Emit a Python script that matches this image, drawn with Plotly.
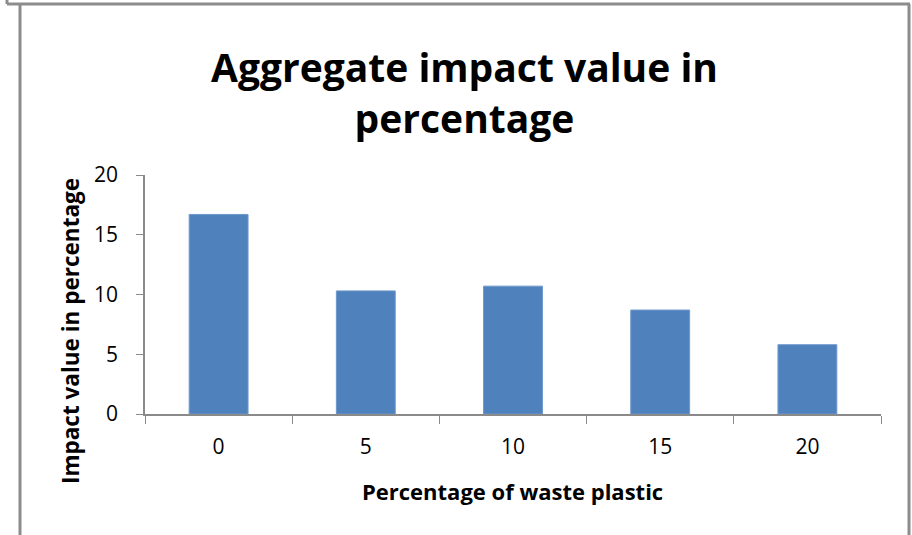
import plotly.graph_objects as go

categories = ["0", "5", "10", "15", "20"]
impact_values = [16.7, 10.3, 10.7, 8.7, 5.8]
y_ticks = [0, 5, 10, 15, 20]

W, H = 912, 535
ML, MR, MT, MB = 145, 31, 175, 121
PW, PH = W - ML - MR, H - MT - MB

def px_x(p):
    return (p - ML) / PW

def px_y(p):
    return (H - MB - p) / PH

FONT = "Open Sans"
GRAY = "#8a8a8a"

fig = go.Figure(go.Bar(
    x=categories, y=impact_values,
    marker=dict(color="#4F81BD", line=dict(color="#6f98cc", width=1)),
    width=0.4,
))

fig.update_layout(
    width=W, height=H,
    margin=dict(l=ML, r=MR, t=MT, b=MB),
    paper_bgcolor="white", plot_bgcolor="white",
    showlegend=False,
    font=dict(family=FONT, color="black"),
)
fig.update_xaxes(
    type="category", tickson="boundaries", ticks="outside", ticklen=8,
    tickcolor=GRAY, showline=True, linecolor=GRAY, linewidth=1.5,
    showgrid=False, tickfont=dict(size=21, family=FONT), ticklabelstandoff=13,
)
fig.update_yaxes(
    range=[0, 20], tickvals=y_ticks, ticks="outside", ticklen=7,
    tickcolor=GRAY, showline=True, linecolor=GRAY, linewidth=1.5,
    showgrid=False, zeroline=False, tickfont=dict(size=21, family=FONT),
    ticklabelstandoff=14,
)

fig.add_annotation(
    text="<b>Aggregate impact value in<br>percentage</b>",
    xref="paper", yref="paper", x=px_x(464.5), y=px_y(92),
    xanchor="center", yanchor="middle", showarrow=False,
    font=dict(size=39, family=FONT, color="black"),
)
fig.add_annotation(
    text="<b>Percentage of waste plastic</b>",
    xref="paper", yref="paper", x=px_x(512), y=px_y(491),
    xanchor="center", yanchor="middle", showarrow=False,
    font=dict(size=22, family=FONT, color="black"),
)
fig.add_annotation(
    text="<b>Impact value in percentage</b>",
    xref="paper", yref="paper", x=px_x(70), y=px_y(331),
    xanchor="center", yanchor="middle", showarrow=False, textangle=-90,
    font=dict(size=22.5, family=FONT, color="black"),
)

border = dict(color="#8c8c8c", width=3)
fig.add_shape(type="line", xref="paper", yref="paper",
              x0=px_x(7), x1=px_x(910), y0=px_y(4), y1=px_y(4), line=border)
fig.add_shape(type="line", xref="paper", yref="paper",
              x0=px_x(7), x1=px_x(7), y0=px_y(0), y1=px_y(4), line=border)
fig.add_shape(type="line", xref="paper", yref="paper",
              x0=px_x(20), x1=px_x(20), y0=px_y(4), y1=px_y(540), line=border)
fig.add_shape(type="line", xref="paper", yref="paper",
              x0=px_x(909), x1=px_x(909), y0=px_y(4), y1=px_y(540), line=border)

fig.write_html("out.html")
